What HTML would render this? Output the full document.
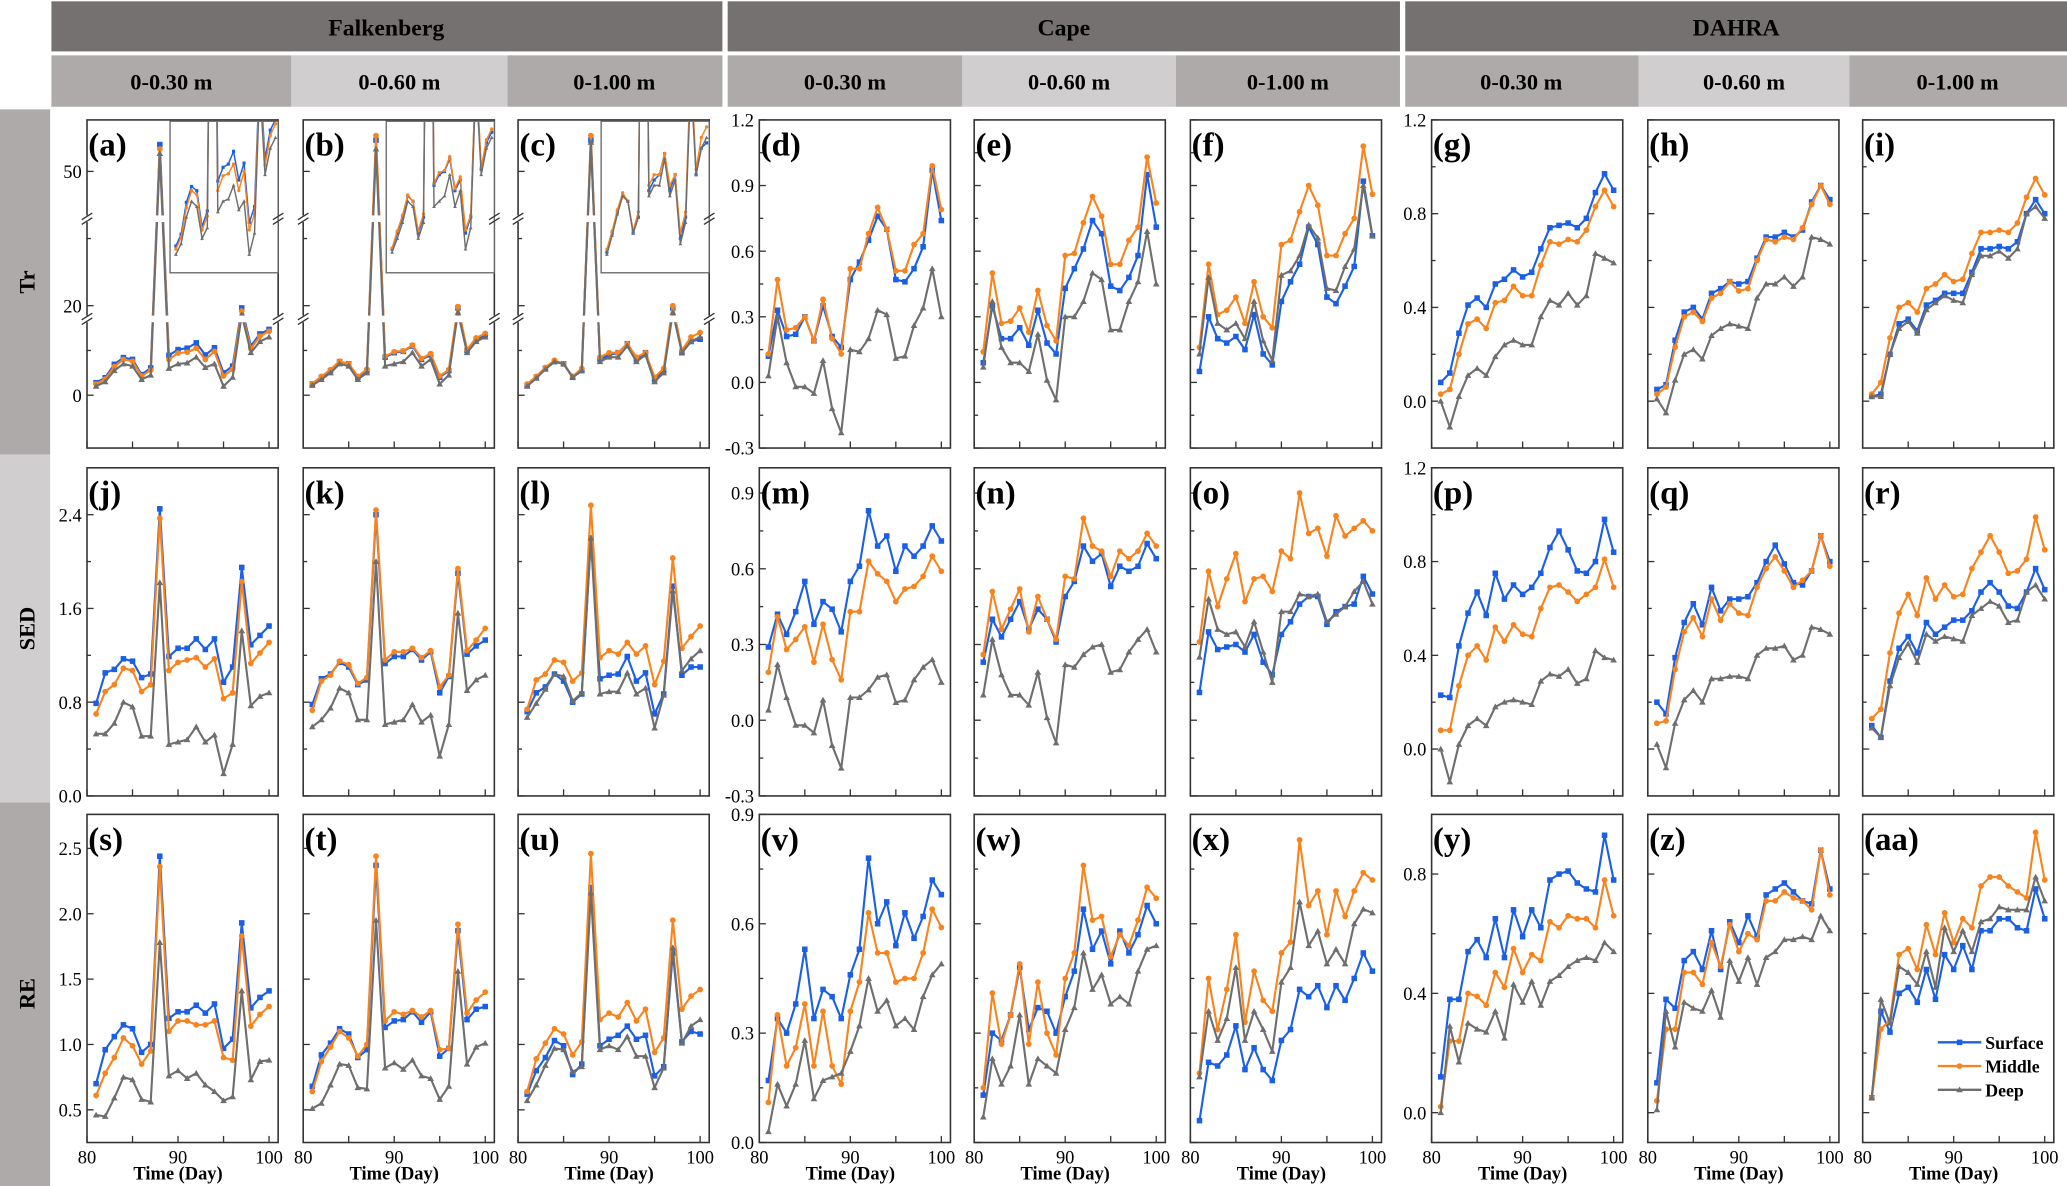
<!DOCTYPE html>
<html><head><meta charset="utf-8"><style>
html,body{margin:0;padding:0;background:#fff;}
svg{display:block;}
text{font-family:"Liberation Serif",serif;}
</style></head><body>
<svg id="chart" xmlns="http://www.w3.org/2000/svg" width="2067" height="1186" viewBox="0 0 1568 900" preserveAspectRatio="none">
<rect x="0" y="0" width="1568" height="900" fill="#fff"/>
<g>
<rect x="39" y="1" width="509" height="38" fill="#767171"/>
<text x="293" y="27" text-anchor="middle" font-size="18" font-weight="bold">Falkenberg</text>
<rect x="552" y="1" width="510" height="38" fill="#767171"/>
<text x="807" y="27" text-anchor="middle" font-size="18" font-weight="bold">Cape</text>
<rect x="1066" y="1" width="502" height="38" fill="#767171"/>
<text x="1317" y="27" text-anchor="middle" font-size="18" font-weight="bold">DAHRA</text>
</g>
<g>
<rect x="39" y="42" width="182" height="39" fill="#aeaaaa"/>
<text x="130" y="68" text-anchor="middle" font-size="17" font-weight="bold">0-0.30 m</text>
<rect x="221" y="42" width="164" height="39" fill="#d0cece"/>
<text x="303" y="68" text-anchor="middle" font-size="17" font-weight="bold">0-0.60 m</text>
<rect x="385" y="42" width="163" height="39" fill="#aeaaaa"/>
<text x="466" y="68" text-anchor="middle" font-size="17" font-weight="bold">0-1.00 m</text>
<rect x="552" y="42" width="178" height="39" fill="#aeaaaa"/>
<text x="641" y="68" text-anchor="middle" font-size="17" font-weight="bold">0-0.30 m</text>
<rect x="730" y="42" width="162" height="39" fill="#d0cece"/>
<text x="811" y="68" text-anchor="middle" font-size="17" font-weight="bold">0-0.60 m</text>
<rect x="892" y="42" width="170" height="39" fill="#aeaaaa"/>
<text x="977" y="68" text-anchor="middle" font-size="17" font-weight="bold">0-1.00 m</text>
<rect x="1066" y="42" width="177" height="39" fill="#aeaaaa"/>
<text x="1154" y="68" text-anchor="middle" font-size="17" font-weight="bold">0-0.30 m</text>
<rect x="1243" y="42" width="160" height="39" fill="#d0cece"/>
<text x="1323" y="68" text-anchor="middle" font-size="17" font-weight="bold">0-0.60 m</text>
<rect x="1403" y="42" width="165" height="39" fill="#aeaaaa"/>
<text x="1485" y="68" text-anchor="middle" font-size="17" font-weight="bold">0-1.00 m</text>
</g>
<g>
<rect x="0" y="83" width="38" height="262" fill="#aeaaaa"/>
<text transform="translate(26,214) rotate(-90)" text-anchor="middle" font-size="17" font-weight="bold">Tr</text>
<rect x="0" y="345" width="38" height="264" fill="#d0cece"/>
<text transform="translate(26,477) rotate(-90)" text-anchor="middle" font-size="17" font-weight="bold">SED</text>
<rect x="0" y="609" width="38" height="291" fill="#aeaaaa"/>
<text transform="translate(26,754) rotate(-90)" text-anchor="middle" font-size="17" font-weight="bold">RE</text>
</g>
</svg>
<script>
const days = [81,82,83,84,85,86,87,88,89,90,91,92,93,94,95,96,97,98,99,100];
const xTickLabels = [80,90,100];
const seriesNames = ['Surface','Middle','Deep'];

// Tr - Falkenberg
const a_surface = [2.8,3.9,6.9,8.4,8.0,4.6,6.1,56,8.9,10.2,10.5,11.7,9.0,10.6,5.0,6.5,19.5,11,13.7,14.7];
const a_middle  = [2.5,3.6,6.4,8.0,7.6,4.3,5.6,55,8.0,9.4,9.6,10.5,8.0,9.8,4.3,5.8,18.8,10.4,13.2,14.3];
const a_deep    = [2.0,3.0,5.5,7.0,6.5,3.5,4.5,54,6.0,7.0,7.2,8.5,6.2,7.0,2.0,4.0,18.0,9.5,12.0,13.0];
const b_surface = [2.5,4,5.5,7.5,7,4,5.5,57,8.5,9.5,9.8,11,8,9,4,5.5,19.5,10,12.5,13.5];
const b_middle  = [2.6,4.2,5.7,7.6,7,4.2,5.8,58,8.7,9.7,9.9,11.2,8.2,9.3,4.3,5.7,19.8,10.2,12.8,13.8];
const b_deep    = [2.2,3.5,5,7,6.5,3.5,5,55,6.5,7,7.5,9.5,6.5,8,2.5,4.5,18.5,9.5,12,13];
const c_surface = [2.2,4,6,7.5,7,4,5.5,57,8,9,9.5,11.5,8,9.5,3.5,5.5,19.5,9.5,12,12.5];
const c_middle  = [2.5,4.2,6.2,7.8,7,4.2,6,58,8.5,9.5,9.5,11.5,8.5,9.5,4,6,20,10,13,14];
const c_deep    = [2,3.8,5.8,7.5,7,4,5.5,56.5,7.5,8.5,8.5,11,7.5,9,3,5,18.5,9.5,12,13];
// Tr - Cape
const d_surface = [.12,.33,.21,.22,.30,.19,.35,.21,.16,.47,.55,.65,.76,.70,.47,.46,.52,.62,.97,.74];
const d_middle  = [.13,.47,.24,.25,.30,.19,.38,.20,.13,.52,.52,.68,.80,.70,.51,.51,.63,.68,.99,.79];
const d_deep    = [.03,.30,.09,-.02,-.02,-.05,.10,-.12,-.23,.15,.14,.20,.33,.31,.11,.12,.26,.34,.52,.30];
const e_surface = [.09,.35,.20,.20,.25,.17,.33,.18,.13,.43,.52,.61,.74,.68,.44,.42,.48,.58,.95,.71];
const e_middle  = [.14,.50,.27,.28,.34,.23,.42,.26,.19,.58,.59,.73,.85,.76,.54,.54,.65,.71,1.03,.82];
const e_deep    = [.07,.37,.16,.09,.09,.05,.22,.01,-.08,.30,.30,.37,.50,.47,.24,.24,.37,.46,.69,.45];
const f_surface = [.05,.30,.20,.18,.21,.15,.31,.13,.08,.37,.46,.54,.71,.63,.39,.36,.44,.53,.92,.67];
const f_middle  = [.16,.54,.31,.33,.39,.27,.46,.30,.25,.63,.65,.78,.90,.81,.58,.58,.68,.75,1.08,.86];
const f_deep    = [.13,.48,.27,.24,.27,.20,.37,.19,.10,.49,.51,.58,.72,.66,.43,.42,.53,.61,.90,.67];
// Tr - DAHRA
const g_surface = [.08,.12,.29,.41,.44,.40,.50,.52,.56,.53,.55,.65,.74,.75,.76,.74,.78,.89,.97,.90];
const g_middle  = [.03,.05,.20,.33,.35,.31,.42,.43,.49,.45,.45,.58,.68,.67,.69,.68,.73,.83,.90,.83];
const g_deep    = [.00,-.11,.02,.11,.14,.11,.19,.24,.26,.24,.24,.36,.43,.41,.46,.41,.45,.63,.61,.59];
const h_surface = [.05,.07,.26,.38,.40,.35,.46,.48,.51,.50,.51,.61,.70,.70,.72,.70,.73,.85,.92,.86];
const h_middle  = [.03,.06,.23,.36,.38,.34,.44,.46,.51,.47,.48,.60,.69,.68,.70,.69,.74,.84,.92,.84];
const h_deep    = [.01,-.05,.09,.20,.22,.18,.28,.31,.33,.32,.31,.44,.50,.50,.53,.49,.53,.70,.69,.67];
const i_surface = [.02,.03,.20,.33,.35,.30,.41,.43,.46,.46,.46,.55,.65,.65,.66,.65,.68,.80,.86,.80];
const i_middle  = [.03,.08,.27,.40,.42,.38,.48,.50,.54,.51,.52,.63,.72,.72,.73,.72,.76,.87,.95,.88];
const i_deep    = [.02,.02,.20,.31,.34,.29,.39,.42,.45,.43,.42,.54,.62,.62,.64,.61,.65,.80,.83,.78];
// SED - Falkenberg
const j_surface = [.79,1.05,1.08,1.17,1.15,1.01,1.04,2.45,1.19,1.26,1.26,1.34,1.25,1.34,.97,1.10,1.95,1.29,1.37,1.45];
const j_middle  = [.70,.89,.95,1.09,1.07,.89,.95,2.37,1.07,1.14,1.16,1.18,1.10,1.17,.83,.88,1.83,1.13,1.22,1.31];
const j_deep    = [.53,.53,.62,.80,.76,.51,.51,1.82,.44,.46,.48,.59,.46,.52,.19,.44,1.41,.77,.85,.88];
const k_surface = [.78,1.00,1.04,1.14,1.10,.95,.99,2.40,1.13,1.19,1.19,1.25,1.16,1.23,.88,1.02,1.90,1.21,1.28,1.33];
const k_middle  = [.73,.98,1.03,1.15,1.12,.96,1.01,2.44,1.16,1.23,1.23,1.26,1.18,1.24,.93,1.03,1.94,1.24,1.33,1.43];
const k_deep    = [.59,.65,.75,.92,.88,.65,.65,2.00,.61,.63,.65,.78,.63,.69,.34,.61,1.56,.90,.99,1.03];
const l_surface = [.72,.88,.93,1.04,.98,.80,.87,2.20,1.00,1.03,1.04,1.19,.98,1.05,.70,.87,1.79,1.03,1.10,1.10];
const l_middle  = [.74,.99,1.04,1.16,1.14,.98,1.05,2.48,1.18,1.24,1.21,1.31,1.21,1.28,.95,1.15,2.03,1.26,1.36,1.45];
const l_deep    = [.67,.79,.91,1.04,1.02,.81,.88,2.20,.87,.89,.89,1.05,.87,.92,.58,.86,1.75,1.07,1.17,1.24];
// SED - Cape
const m_surface = [.29,.42,.34,.43,.55,.38,.47,.44,.35,.55,.61,.83,.69,.73,.59,.69,.65,.69,.77,.71];
const m_middle  = [.19,.41,.28,.32,.37,.23,.38,.24,.16,.43,.43,.63,.58,.55,.47,.52,.53,.57,.65,.59];
const m_deep    = [.04,.22,.09,-.02,-.02,-.05,.08,-.10,-.19,.09,.09,.12,.17,.18,.07,.08,.16,.21,.24,.15];
const n_surface = [.23,.40,.33,.40,.47,.36,.44,.40,.31,.49,.55,.69,.63,.66,.53,.61,.59,.61,.70,.64];
const n_middle  = [.26,.51,.36,.44,.52,.35,.49,.40,.32,.57,.56,.80,.69,.67,.57,.67,.64,.67,.74,.69];
const n_deep    = [.10,.32,.18,.10,.10,.06,.19,.01,-.09,.22,.21,.26,.29,.30,.19,.20,.27,.32,.36,.27];
const o_surface = [.11,.35,.28,.29,.30,.27,.34,.23,.18,.34,.39,.46,.49,.49,.38,.43,.45,.46,.57,.50];
const o_middle  = [.31,.59,.45,.56,.66,.47,.56,.57,.51,.67,.64,.90,.74,.76,.65,.81,.73,.76,.79,.75];
const o_deep    = [.25,.48,.36,.34,.35,.29,.39,.27,.15,.43,.43,.50,.49,.50,.39,.42,.45,.51,.55,.46];
// SED - DAHRA
const p_surface = [.23,.22,.44,.58,.67,.57,.75,.64,.70,.66,.69,.75,.86,.93,.85,.76,.75,.80,.98,.84];
const p_middle  = [.08,.08,.27,.40,.44,.38,.52,.46,.53,.49,.48,.60,.69,.70,.67,.63,.66,.69,.81,.69];
const p_deep    = [.00,-.14,.02,.10,.13,.10,.18,.20,.21,.20,.19,.29,.32,.31,.34,.28,.30,.42,.39,.38];
const q_surface = [.20,.15,.39,.54,.62,.53,.69,.59,.64,.64,.65,.71,.80,.87,.79,.71,.70,.76,.91,.80];
const q_middle  = [.11,.12,.34,.50,.56,.48,.64,.55,.62,.58,.57,.69,.77,.82,.76,.69,.72,.76,.91,.78];
const q_deep    = [.02,-.08,.11,.21,.25,.20,.30,.30,.31,.31,.30,.40,.43,.43,.44,.38,.40,.52,.51,.49];
const r_surface = [.10,.05,.29,.43,.48,.41,.54,.49,.52,.55,.55,.59,.67,.71,.67,.61,.60,.67,.77,.68];
const r_middle  = [.13,.17,.41,.58,.66,.57,.73,.64,.70,.65,.66,.77,.84,.91,.84,.75,.76,.81,.99,.85];
const r_deep    = [.09,.05,.27,.39,.45,.37,.49,.46,.48,.47,.46,.57,.60,.63,.61,.54,.55,.67,.70,.64];
// RE - Falkenberg
const s_surface = [.70,.96,1.06,1.15,1.12,.94,1.00,2.44,1.20,1.25,1.25,1.30,1.24,1.31,.97,1.04,1.93,1.28,1.36,1.41];
const s_middle  = [.61,.78,.90,1.05,.99,.85,.95,2.36,1.10,1.18,1.18,1.15,1.15,1.18,.90,.88,1.83,1.14,1.23,1.29];
const s_deep    = [.46,.45,.59,.75,.73,.58,.56,1.78,.76,.80,.74,.78,.69,.64,.57,.60,1.41,.73,.87,.88];
const t_surface = [.68,.92,1.01,1.12,1.08,.90,.96,2.37,1.13,1.18,1.19,1.25,1.17,1.25,.91,.97,1.87,1.19,1.27,1.29];
const t_middle  = [.64,.87,.98,1.10,1.05,.91,1.00,2.44,1.18,1.25,1.23,1.26,1.21,1.26,.96,.97,1.92,1.24,1.34,1.40];
const t_deep    = [.51,.55,.69,.85,.84,.67,.66,1.95,.82,.86,.81,.88,.76,.74,.58,.68,1.56,.85,.98,1.01];
const u_surface = [.62,.80,.90,1.03,.99,.77,.85,2.20,.99,1.04,1.07,1.14,1.04,1.07,.76,.83,1.70,1.02,1.10,1.08];
const u_middle  = [.64,.89,1.01,1.12,1.08,.92,1.02,2.46,1.19,1.24,1.21,1.32,1.18,1.27,.94,1.05,1.95,1.27,1.37,1.42];
const u_deep    = [.57,.69,.84,.97,.96,.79,.83,2.16,.96,.99,.96,1.06,.91,.91,.67,.82,1.74,1.01,1.14,1.19];
// RE - Cape
const v_surface = [.17,.34,.30,.38,.53,.34,.42,.40,.34,.46,.53,.78,.60,.66,.54,.63,.56,.62,.72,.68];
const v_middle  = [.11,.35,.21,.26,.38,.21,.36,.21,.16,.36,.44,.63,.52,.52,.44,.45,.45,.52,.64,.59];
const v_deep    = [.03,.16,.10,.16,.28,.12,.17,.18,.19,.25,.32,.45,.36,.39,.32,.34,.31,.40,.46,.49];
const w_surface = [.13,.30,.28,.35,.48,.31,.37,.36,.30,.40,.47,.64,.53,.58,.49,.58,.52,.57,.65,.60];
const w_middle  = [.15,.41,.27,.35,.49,.27,.44,.30,.24,.45,.52,.76,.61,.62,.51,.57,.54,.61,.70,.67];
const w_deep    = [.07,.23,.16,.21,.35,.16,.23,.21,.19,.31,.37,.52,.42,.46,.38,.40,.38,.47,.53,.54];
const x_surface = [.06,.22,.21,.24,.32,.20,.26,.20,.17,.28,.31,.42,.40,.43,.37,.43,.39,.45,.52,.47];
const x_middle  = [.19,.45,.31,.42,.57,.33,.47,.39,.36,.52,.55,.83,.65,.69,.57,.69,.62,.69,.74,.72];
const x_deep    = [.18,.36,.28,.34,.48,.28,.36,.31,.25,.44,.48,.66,.54,.58,.49,.53,.49,.60,.64,.63];
// RE - DAHRA
const y_surface = [.12,.38,.38,.54,.58,.52,.65,.52,.68,.59,.68,.62,.78,.80,.81,.77,.75,.74,.93,.78];
const y_middle  = [.02,.24,.24,.40,.39,.36,.47,.42,.55,.47,.53,.51,.64,.62,.66,.65,.65,.62,.78,.66];
const y_deep    = [.00,.29,.17,.30,.28,.27,.34,.25,.43,.37,.44,.36,.44,.46,.49,.51,.52,.51,.57,.54];
const z_surface = [.10,.38,.35,.51,.54,.48,.61,.48,.64,.57,.66,.59,.73,.75,.77,.74,.71,.70,.88,.75];
const z_middle  = [.04,.28,.28,.47,.47,.43,.57,.49,.63,.54,.60,.58,.71,.71,.74,.72,.71,.68,.88,.73];
const z_deep    = [.01,.34,.22,.37,.35,.34,.41,.32,.51,.44,.52,.43,.52,.54,.58,.58,.59,.58,.66,.61];
const aa_surface = [.05,.34,.27,.40,.42,.37,.48,.38,.53,.48,.56,.48,.61,.61,.65,.65,.62,.61,.75,.65];
const aa_middle  = [.05,.28,.31,.53,.55,.48,.63,.53,.67,.57,.65,.62,.76,.79,.79,.76,.74,.72,.94,.78];
const aa_deep    = [.05,.38,.30,.49,.47,.43,.54,.42,.62,.54,.61,.54,.64,.65,.69,.68,.68,.68,.79,.71];

const panelSeries = {
  a:[a_surface,a_middle,a_deep], b:[b_surface,b_middle,b_deep], c:[c_surface,c_middle,c_deep],
  d:[d_surface,d_middle,d_deep], e:[e_surface,e_middle,e_deep], f:[f_surface,f_middle,f_deep],
  g:[g_surface,g_middle,g_deep], h:[h_surface,h_middle,h_deep], i:[i_surface,i_middle,i_deep],
  j:[j_surface,j_middle,j_deep], k:[k_surface,k_middle,k_deep], l:[l_surface,l_middle,l_deep],
  m:[m_surface,m_middle,m_deep], n:[n_surface,n_middle,n_deep], o:[o_surface,o_middle,o_deep],
  p:[p_surface,p_middle,p_deep], q:[q_surface,q_middle,q_deep], r:[r_surface,r_middle,r_deep],
  s:[s_surface,s_middle,s_deep], t:[t_surface,t_middle,t_deep], u:[u_surface,u_middle,u_deep],
  v:[v_surface,v_middle,v_deep], w:[w_surface,w_middle,w_deep], x:[x_surface,x_middle,x_deep],
  y:[y_surface,y_middle,y_deep], z:[z_surface,z_middle,z_deep], aa:[aa_surface,aa_middle,aa_deep]
};

const falk_tr_ticks = [0,20,50];
const falk_sed_ticks = [0,0.8,1.6,2.4];
const falk_re_ticks = [0.5,1.0,1.5,2.0,2.5];
const cape_tr_ticks = [-0.3,0,0.3,0.6,0.9,1.2];
const cape_sed_ticks = [-0.3,0,0.3,0.6,0.9];
const cape_re_ticks = [0,0.3,0.6,0.9];
const dahra_tr_ticks = [0,0.4,0.8,1.2];
const dahra_sed_ticks = [0,0.4,0.8,1.2];
const dahra_re_ticks = [0,0.4,0.8];

const axes = {
  falk_tr:{min:-11.8,max:61.5,major:falk_tr_ticks,minor:[10,35],dec:0},
  falk_sed:{min:0,max:2.8,major:falk_sed_ticks,minor:[0.4,1.2,2.0],dec:1},
  falk_re:{min:0.25,max:2.76,major:falk_re_ticks,minor:[],dec:1},
  cape_tr:{min:-0.3,max:1.2,major:cape_tr_ticks,minor:[-0.15,0.15,0.45,0.75,1.05],dec:1},
  cape_sed:{min:-0.3,max:1.0,major:cape_sed_ticks,minor:[-0.15,0.15,0.45,0.75],dec:1},
  cape_re:{min:0,max:0.9,major:cape_re_ticks,minor:[0.15,0.45,0.75],dec:1},
  dahra_tr:{min:-0.2,max:1.2,major:dahra_tr_ticks,minor:[0.2,0.6,1.0],dec:1},
  dahra_sed:{min:-0.2,max:1.2,major:dahra_sed_ticks,minor:[0.2,0.6,1.0],dec:1},
  dahra_re:{min:-0.1,max:1.0,major:dahra_re_ticks,minor:[0.2,0.6],dec:1}
};

const NS = 'http://www.w3.org/2000/svg';
const svg = document.getElementById('chart');
function mk(tag, attrs, parent){
  const e = document.createElementNS(NS, tag);
  for (const k in attrs) e.setAttribute(k, attrs[k]);
  (parent || svg).appendChild(e);
  return e;
}
const colors = ['#1a5fe6','#f7841e','#6e6e6e'];
const colX = [66,230,393,576,739,903,1086,1250,1413];
const W = 145;
const rowY = [91,355,618];
const H = 249;
const letters = [['a','b','c','d','e','f','g','h','i'],['j','k','l','m','n','o','p','q','r'],['s','t','u','v','w','x','y','z','aa']];
const rowKeys = ['tr','sed','re'];
const siteKeys = ['falk','cape','dahra'];

function marker(kind, x, y, color, sz, parent){
  let m;
  if (kind === 0) m = mk('rect', {x:x-sz/2, y:y-sz/2, width:sz, height:sz, fill:color}, parent);
  else if (kind === 1) m = mk('circle', {cx:x, cy:y, r:sz*0.52, fill:color}, parent);
  else m = mk('polygon', {points:(x)+','+(y-sz*0.6)+' '+(x-sz*0.6)+','+(y+sz*0.45)+' '+(x+sz*0.6)+','+(y+sz*0.45), fill:color}, parent);
  return m;
}

for (let r = 0; r < 3; r++) {
  for (let c = 0; c < 9; c++) {
    const L = colX[c], T = rowY[r];
    const site = siteKeys[Math.floor(c/3)];
    const ax = axes[site + '_' + rowKeys[r]];
    const id = letters[r][c];
    const xs = d => L + (d - 80) / 21 * W;
    const ys = v => T + H - (v - ax.min) / (ax.max - ax.min) * H;
    const g = mk('g', {});
    
    
    const box = mk('rect', {x:L, y:T, width:W, height:H, fill:'#fff', stroke:'#333', 'stroke-width':1.2}, g);
    
    
    // y ticks
    ax.major.forEach(v => {
      const t = mk('line', {x1:L, x2:L+5, y1:ys(v), y2:ys(v), stroke:'#333', 'stroke-width':1}, g);
      
      
      if (c % 3 === 0) {
        const lb = mk('text', {x:L-4, y:ys(v)+5, 'text-anchor':'end', 'font-size':14}, g);
        
        
        lb.textContent = v.toFixed(ax.dec);
      }
    });
    ax.minor.forEach(v => {
      const t = mk('line', {x1:L, x2:L+3, y1:ys(v), y2:ys(v), stroke:'#333', 'stroke-width':1}, g);
      
      
    });
    // x ticks
    [80,85,90,95,100].forEach(d => {
      const t = mk('line', {x1:xs(d), x2:xs(d), y1:T+H, y2:T+H-5, stroke:'#333', 'stroke-width':1}, g);
      
      
    });
    if (r === 2) {
      xTickLabels.forEach(d => {
        const lb = mk('text', {x:xs(d), y:T+H+16, 'text-anchor':'middle', 'font-size':14}, g);
        
        
        lb.textContent = d;
      });
      const tt = mk('text', {x:xs(90), y:T+H+28, 'text-anchor':'middle', 'font-size':14, 'font-weight':'bold'}, g);
      
      
      tt.textContent = 'Time (Day)';
    }
    // series
    const ser = panelSeries[id];
    ser.forEach((vals, si) => {
      const pts = vals.map((v, k) => xs(days[k]).toFixed(2) + ',' + ys(v).toFixed(2)).join(' ');
      const pl = mk('polyline', {points:pts, fill:'none', stroke:colors[si], 'stroke-width':1.6, 'stroke-linejoin':'round'}, g);
      
      
      vals.forEach((v, k) => {
        const m = marker(si, xs(days[k]), ys(v), colors[si], 4.2, g);
        
        
      });
    });
    // Falkenberg Tr: breaks + inset
    if (r === 0 && c < 3) {
      const breaks = [166, 242];
      breaks.forEach(by => {
        const band = mk('rect', {x:L-4, y:by-2.5, width:W+8, height:5, fill:'#fff'}, g);
        
        
      });
      const IL = L + 63, IT = T + 1, IW = W - 63, IH = 115;
      const cpId = 'clip-inset-' + id;
      const defs = mk('defs', {}, g);
      const cp = mk('clipPath', {id:cpId}, defs);
      mk('rect', {x:IL, y:IT, width:IW, height:IH}, cp);
      const inset = mk('g', {}, g);
      
      
      const ib = mk('rect', {x:IL, y:IT, width:IW, height:IH, fill:'#fff', stroke:'#666', 'stroke-width':1}, inset);
      
      
      const ixs = d => L + 67.4 + (d - 81) / 19 * 75.6;
      const iys = v => T + 94 - (v - 3) * 8.06;
      const ig = mk('g', {'clip-path':'url(#' + cpId + ')'}, inset);
      ser.forEach((vals, si) => {
        const pts = vals.map((v, k) => ixs(days[k]).toFixed(2) + ',' + iys(v).toFixed(2)).join(' ');
        const pl = mk('polyline', {points:pts, fill:'none', stroke:colors[si], 'stroke-width':1.1}, ig);
        
        
        vals.forEach((v, k) => {
          const m = marker(si, ixs(days[k]), iys(v), colors[si], 2.4, ig);
          
          
        });
      });
      breaks.forEach(by => {
        [L, L+W].forEach(bx => {
          [-1.8, 1.8].forEach(off => {
            const sl = mk('line', {x1:bx-4, y1:by+off+2.5, x2:bx+4, y2:by+off-2.5, stroke:'#333', 'stroke-width':1}, g);
            
            
          });
        });
      });
    }
    const pl = mk('text', {x:L+1, y:T+27, 'font-size':25, 'font-weight':'bold'}, g);
    
    
    pl.textContent = '(' + id + ')';
  }
}

// legend in panel (aa)
const leg = mk('g', {});


const legY = [791, 809, 827];
seriesNames.forEach((nm, si) => {
  const ln = mk('line', {x1:1470, x2:1503, y1:legY[si], y2:legY[si], stroke:colors[si], 'stroke-width':1.8}, leg);
  
  
  const mm = marker(si, 1486.5, legY[si], colors[si], 4.2, leg);
  
  
  const tx = mk('text', {x:1506, y:legY[si]+5, 'font-size':13.5, 'font-weight':'bold'}, leg);
  
  
  tx.textContent = nm;
});
</script>
</body></html>
